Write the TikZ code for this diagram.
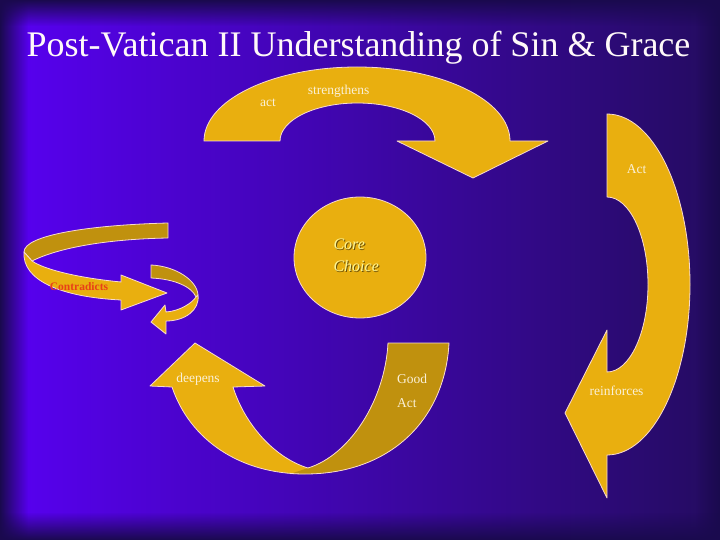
\documentclass[tikz,border=0pt]{standalone}
\usepackage{fontspec}
\setmainfont{Liberation Serif}
\usetikzlibrary{fadings}
\usetikzlibrary{shapes.geometric}
\definecolor{bgBright}{RGB}{88,0,242}
\definecolor{bgMid}{RGB}{70,0,214}
\definecolor{bgDark}{RGB}{36,12,96}
\definecolor{bgEdge}{RGB}{26,10,78}
\definecolor{goldLight}{RGB}{233,175,15}
\definecolor{goldDark}{RGB}{192,145,14}
\definecolor{rimPink}{RGB}{248,218,208}
\definecolor{creamText}{RGB}{250,240,215}
\definecolor{redText}{RGB}{232,64,24}
\tikzfading[name=edgeWest,left color=transparent!0,right color=transparent!100]
\tikzfading[name=edgeEast,left color=transparent!100,right color=transparent!0]
\tikzfading[name=edgeNorth,top color=transparent!0,bottom color=transparent!100]
\tikzfading[name=edgeSouth,top color=transparent!100,bottom color=transparent!0]

\begin{document}
\begin{tikzpicture}[x=1pt,y=-1pt,
	band/.style={fill=goldLight,draw=rimPink,line width=0.8pt,line join=round},
	lbl/.style={text=creamText,font=\fontsize{13.5}{16}\selectfont,inner sep=0pt}]
	\useasboundingbox (0,0) rectangle (720,540);
	\shade[left color=bgBright,middle color=bgMid,right color=bgDark] (0,0) rectangle (720,540);
	\fill[bgEdge,path fading=edgeWest] (0,0) rectangle (28,540);
	\fill[bgEdge,path fading=edgeEast] (695,0) rectangle (720,540);
	\fill[bgEdge,path fading=edgeNorth] (0,0) rectangle (720,26);
	\fill[bgEdge,path fading=edgeSouth] (0,512) rectangle (720,540);

	\draw (358.5,57) node (title) [anchor=base,text=white!90!pink,font=\fontsize{36}{40}\selectfont] {Post-Vatican II Understanding of Sin \& Grace};

	\draw[band] (204,141) arc[start angle=180,end angle=360,x radius=153,y radius=74] -- (548,141) -- (473,178) -- (397,141) -- (435,141) arc[start angle=360,end angle=180,x radius=77.5,y radius=38] -- cycle;
	\draw[band] (607,114) arc[start angle=270,end angle=450,x radius=83,y radius=170.5] -- (607,498) -- (565,413) -- (607,330) -- (607,372) arc[start angle=90,end angle=-90,x radius=41,y radius=87.5] -- cycle;

	\fill[goldLight] (449,343) .. controls (445,420) and (390,474) .. (305,474) .. controls (240,474) and (190,440) .. (172,387) -- (150,386) -- (195,343) -- (265,386) -- (233,387) .. controls (245,425) and (275,458) .. (308,468) .. controls (350,455) and (385,400) .. (388,343) -- cycle;
	\fill[goldDark] (308,468) .. controls (350,455) and (385,400) .. (388,343) -- (449,343) .. controls (445,420) and (390,474) .. (305,474) -- (290,474) -- cycle;
	\draw[draw=rimPink,line width=0.8pt,line join=round] (449,343) .. controls (445,420) and (390,474) .. (305,474) .. controls (240,474) and (190,440) .. (172,387) -- (150,386) -- (195,343) -- (265,386) -- (233,387) .. controls (245,425) and (275,458) .. (308,468) .. controls (350,455) and (385,400) .. (388,343) -- cycle;

	\draw[band,fill=goldDark] (168,223) .. controls (90,225) and (24,235) .. (24,252) -- (32,261) .. controls (60,247) and (110,239) .. (168,238) -- cycle;
	\draw[band] (24,252) .. controls (22,280) and (60,297) .. (121,300) -- (121,310) -- (167,293) -- (121,275) -- (121,282) .. controls (80,278) and (45,270) .. (32,261) -- cycle;
	\draw[band,fill=goldDark] (151,265) .. controls (175,266) and (197,280) .. (198,295) -- (196,297) .. controls (192,287) and (175,279) .. (151,278) -- cycle;
	\draw[band] (198,295) .. controls (200,310) and (185,321) .. (166,321) -- (166,334) -- (151,322) -- (165,305) -- (166,312) .. controls (180,311) and (192,303) .. (196,297) -- cycle;

	\draw (360,257.5) node (core) [band,ellipse,minimum width=132,minimum height=121,inner sep=0pt] {};
	\node [anchor=west,align=left,text=goldDark!55!black,font=\itshape\fontsize{16}{22}\selectfont] at (331,256) {Core\\Choice};
	\node (coreText) [anchor=west,align=left,text=creamText!70!yellow,font=\itshape\fontsize{16}{22}\selectfont] at (330,255) {Core\\Choice};

	\node (act) [lbl] at (268,103) {act};
	\node (strengthens) [lbl] at (338.5,91) {strengthens};
	\node (actRight) [lbl] at (636.5,169) {Act};
	\node (deepens) [lbl] at (198,379) {deepens};
	\node (good) [lbl,anchor=west] at (397,379) {Good};
	\node (actBottom) [lbl,anchor=west] at (397,403) {Act};
	\node (reinforces) [lbl] at (616.5,391) {reinforces};
	\node (contradicts) [text=redText,font=\bfseries\fontsize{11.5}{14}\selectfont,inner sep=0pt] at (79,287) {Contradicts};
\end{tikzpicture}
\end{document}
